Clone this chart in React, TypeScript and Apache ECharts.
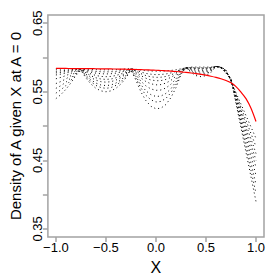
import React, { useEffect, useRef } from "react";
import * as echarts from "echarts";

const X_VALUES = [
  -1, -0.95, -0.9, -0.85, -0.8, -0.75, -0.7, -0.65, -0.6, -0.55, -0.5, -0.45, -0.4, -0.35, -0.3, -0.25,
  -0.2, -0.15, -0.1, -0.05, 0, 0.05, 0.1, 0.15, 0.2, 0.25, 0.3, 0.35, 0.4, 0.45, 0.5, 0.55, 0.6, 0.65,
  0.7, 0.75, 0.8, 0.85, 0.9, 0.95, 1,
];

const RED_CURVE = [
  0.584, 0.584, 0.584, 0.5839, 0.5839, 0.5838, 0.5838, 0.5837, 0.5836, 0.5835, 0.5834, 0.5833, 0.5832,
  0.5831, 0.5829, 0.5827, 0.5825, 0.5823, 0.582, 0.5817, 0.5814, 0.581, 0.5806, 0.5801, 0.5796, 0.579,
  0.5782, 0.5774, 0.5765, 0.5754, 0.5742, 0.5727, 0.571, 0.569, 0.5665, 0.563, 0.5575, 0.5495, 0.54,
  0.526, 0.5067,
];

const DOTTED_1 = [
  0.583, 0.5831, 0.5833, 0.5835, 0.5838,
  0.5838, 0.5832, 0.5827, 0.5823, 0.5821, 0.582, 0.5821, 0.5823, 0.5827, 0.5832, 0.5838,
  0.5828, 0.5817, 0.5808, 0.5803, 0.58, 0.5801, 0.5804, 0.5811, 0.5821, 0.5834,
  0.585, 0.586, 0.586, 0.586, 0.586, 0.586, 0.587, 0.586, 0.582, 0.5653,
  0.5486, 0.532, 0.5154, 0.4986, 0.482,
];
const DOTTED_2 = [
  0.58, 0.5805, 0.5812, 0.5821, 0.5831,
  0.5836, 0.582, 0.5807, 0.5797, 0.5792, 0.579, 0.5792, 0.5797, 0.5807, 0.582, 0.5836,
  0.5814, 0.5788, 0.5768, 0.5756, 0.575, 0.5752, 0.576, 0.5775, 0.5797, 0.5826,
  0.585, 0.5854, 0.5851, 0.585, 0.5851, 0.5854, 0.587, 0.586, 0.581, 0.5658,
  0.5466, 0.5275, 0.5084, 0.4891, 0.47,
];
const DOTTED_3 = [
  0.5775, 0.5784, 0.5795, 0.5809, 0.5825,
  0.5834, 0.5807, 0.5787, 0.5772, 0.5763, 0.576, 0.5763, 0.5772, 0.5787, 0.5807, 0.5834,
  0.5802, 0.5764, 0.5736, 0.5718, 0.571, 0.5712, 0.5724, 0.5746, 0.5778, 0.582,
  0.585, 0.5849, 0.5842, 0.584, 0.5842, 0.5849, 0.587, 0.586, 0.581, 0.5664,
  0.545, 0.5237, 0.5025, 0.4812, 0.46,
];
const DOTTED_4 = [
  0.5745, 0.5758, 0.5774, 0.5794, 0.5818,
  0.5831, 0.5791, 0.576, 0.5738, 0.5724, 0.572, 0.5724, 0.5738, 0.576, 0.5791, 0.5831,
  0.5788, 0.5735, 0.5697, 0.5672, 0.5661, 0.5663, 0.568, 0.571, 0.5755, 0.5813,
  0.585, 0.5843, 0.5833, 0.583, 0.5833, 0.5843, 0.587, 0.586, 0.58, 0.5671,
  0.5433, 0.52, 0.4967, 0.4733, 0.45,
];
const DOTTED_5 = [
  0.569, 0.571, 0.5736, 0.5768, 0.5806,
  0.5828, 0.5775, 0.5733, 0.5704, 0.5686, 0.568, 0.5686, 0.5704, 0.5733, 0.5775, 0.5828,
  0.5771, 0.5701, 0.5649, 0.5616, 0.5601, 0.5605, 0.5627, 0.5667, 0.5726, 0.5804,
  0.585, 0.5832, 0.5816, 0.581, 0.5816, 0.5832, 0.587, 0.586, 0.58, 0.5676,
  0.5416, 0.5162, 0.4909, 0.4654, 0.44,
];
const DOTTED_6 = [
  0.562, 0.565, 0.5688, 0.5735, 0.579,
  0.5825, 0.5758, 0.5707, 0.567, 0.5647, 0.564, 0.5647, 0.567, 0.5707, 0.5758, 0.5825,
  0.5748, 0.5654, 0.5585, 0.5541, 0.5521, 0.5526, 0.5556, 0.561, 0.5688, 0.5792,
  0.585, 0.5821, 0.5798, 0.579, 0.5798, 0.5821, 0.587, 0.585, 0.579, 0.5681,
  0.5396, 0.5117, 0.4839, 0.4559, 0.428,
];
const DOTTED_7 = [
  0.555, 0.5589, 0.564, 0.5701, 0.5774,
  0.5821, 0.5738, 0.5673, 0.5627, 0.5599, 0.559, 0.5599, 0.5627, 0.5673, 0.5738, 0.5821,
  0.5722, 0.5602, 0.5513, 0.5457, 0.5431, 0.5438, 0.5476, 0.5545, 0.5646, 0.5778,
  0.585, 0.581, 0.578, 0.577, 0.578, 0.581, 0.587, 0.585, 0.579, 0.5685,
  0.5375, 0.5069, 0.4763, 0.4456, 0.415,
];
const DOTTED_8 = [
  0.548, 0.5529, 0.5591, 0.5668, 0.5758,
  0.5818, 0.5722, 0.5647, 0.5593, 0.5561, 0.555, 0.5561, 0.5593, 0.5647, 0.5722, 0.5818,
  0.5698, 0.5555, 0.5449, 0.5382, 0.5351, 0.5359, 0.5404, 0.5487, 0.5608, 0.5766,
  0.585, 0.5799, 0.5762, 0.575, 0.5762, 0.5799, 0.587, 0.585, 0.578, 0.5688,
  0.5353, 0.502, 0.4687, 0.4353, 0.402,
];
const DOTTED_9 = [
  0.54, 0.5459, 0.5536, 0.5629, 0.5739,
  0.5814, 0.5701, 0.5613, 0.555, 0.5513, 0.55, 0.5513, 0.555, 0.5613, 0.5701, 0.5814,
  0.5669, 0.5497, 0.537, 0.5288, 0.5252, 0.5261, 0.5315, 0.5415, 0.556, 0.5751,
  0.585, 0.5782, 0.5736, 0.572, 0.5736, 0.5782, 0.587, 0.585, 0.577, 0.569,
  0.5333, 0.4975, 0.4617, 0.4258, 0.39,
];

const DOTTED_CURVES = [
  DOTTED_1, DOTTED_2, DOTTED_3, DOTTED_4, DOTTED_5, DOTTED_6, DOTTED_7, DOTTED_8, DOTTED_9,
];

const X_TICKS = [-1, -0.5, 0, 0.5, 1];
const Y_TICKS = [0.35, 0.4, 0.45, 0.5, 0.55, 0.6, 0.65];
const Y_LABELS = [0.35, 0.45, 0.55, 0.65];

const FONT = "Liberation Sans, Arial, Helvetica, sans-serif";
const AXIS_COLOR = "#a3a3a3";

function fmt(v: number, d: number) {
  const s = Math.abs(v).toFixed(d);
  return v < 0 ? "\u2212" + s : s;
}

export default function App() {
  const ref = useRef<HTMLDivElement>(null);

  useEffect(() => {
    if (!ref.current) return;
    const chart = echarts.init(ref.current, null, { renderer: "svg" });

    const series: any[] = DOTTED_CURVES.map((arr, k) => ({
      type: "line",
      name: "fit" + (k + 1),
      data: X_VALUES.map((x, i) => [x, arr[i]]),
      symbol: "none",
      silent: true,
      lineStyle: { color: "#000", width: 1, type: [1, 3] },
      z: 2,
    }));
    series.push({
      type: "line",
      name: "true",
      data: X_VALUES.map((x, i) => [x, RED_CURVE[i]]),
      symbol: "none",
      silent: true,
      smooth: 0.3,
      lineStyle: { color: "#ff0000", width: 1.2 },
      z: 3,
    });

    chart.setOption({
      animation: false,
      grid: {
        left: 40,
        top: 15,
        width: 224,
        height: 232,
        show: true,
        borderColor: AXIS_COLOR,
        borderWidth: 1.5,
        backgroundColor: "transparent",
      },
      xAxis: {
        type: "value",
        min: -1.08,
        max: 1.08,
        axisLine: { show: false, onZero: false },
        axisTick: {
          show: true,
          customValues: X_TICKS,
          length: 5,
          lineStyle: { color: AXIS_COLOR, width: 1.5 },
        },
        axisLabel: {
          customValues: X_TICKS,
          formatter: (v: number) => fmt(v, 1),
          fontSize: 13,
          fontFamily: FONT,
          color: "#000",
          margin: 4,
        },
        splitLine: { show: false },
        name: "X",
        nameLocation: "middle",
        nameGap: 19,
        nameTextStyle: { fontSize: 16, fontFamily: FONT, color: "#000" },
      },
      yAxis: {
        type: "value",
        min: 0.338,
        max: 0.662,
        axisLine: { show: false, onZero: false },
        axisTick: {
          show: true,
          customValues: Y_TICKS,
          length: 5,
          lineStyle: { color: AXIS_COLOR, width: 1.5 },
        },
        axisLabel: {
          customValues: Y_LABELS,
          formatter: (v: number) => fmt(v, 2),
          fontSize: 13,
          fontFamily: FONT,
          color: "#000",
          rotate: 90,
          margin: 4,
        },
        splitLine: { show: false },
        name: "Density of A given X at A = 0",
        nameLocation: "middle",
        nameGap: 22,
        nameTextStyle: { fontSize: 15, fontFamily: FONT, color: "#000" },
      },
      series,
    });

    return () => chart.dispose();
  }, []);

  return (
    <div
      ref={ref}
      style={{ position: "fixed", left: 0, top: 0, width: 280, height: 280, background: "#fff" }}
    />
  );
}
